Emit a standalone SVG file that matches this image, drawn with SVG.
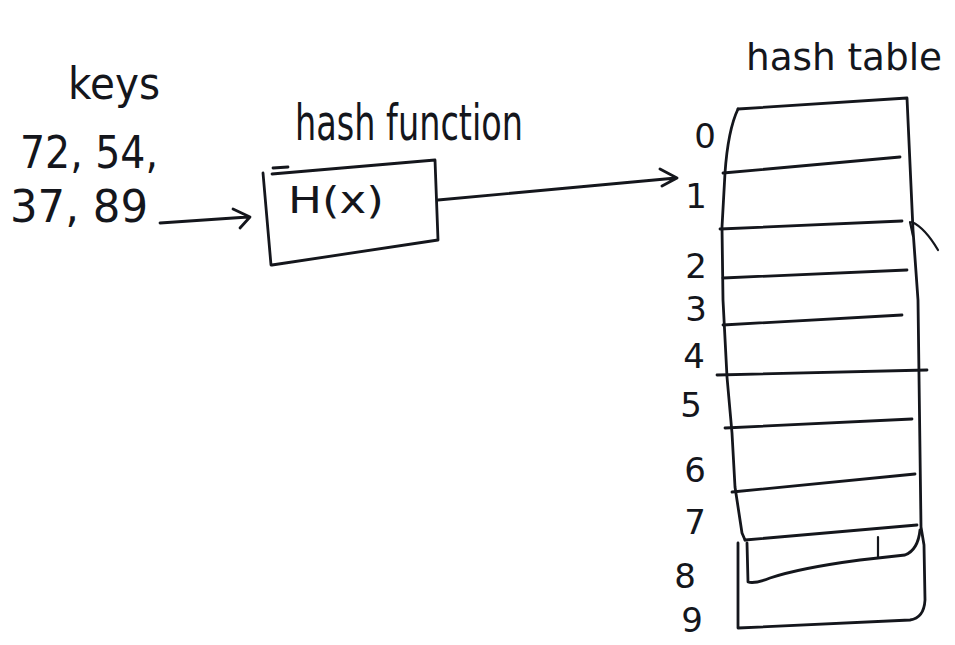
<svg xmlns="http://www.w3.org/2000/svg" width="955" height="645" viewBox="0 0 955 645">
<style>
.ink{fill:none;stroke:#14161c;stroke-width:2.8;stroke-linecap:round;stroke-linejoin:round}
.thin{fill:none;stroke:#14161c;stroke-width:2.2;stroke-linecap:round;stroke-linejoin:round}
.t{font-family:"DejaVu Sans","Liberation Sans",sans-serif;fill:#14161c}
</style>
<rect width="955" height="645" fill="#ffffff"/>
<g id="keys">
<text class="t" x="114" y="99" font-size="44" text-anchor="middle" textLength="92" lengthAdjust="spacingAndGlyphs">keys</text>
<text class="t" x="20" y="168" font-size="44" textLength="138" lengthAdjust="spacingAndGlyphs">72, 54,</text>
<text class="t" x="10" y="222" font-size="44" textLength="138" lengthAdjust="spacingAndGlyphs">37, 89</text>
</g>
<g id="hash-function">
<text class="t" x="295" y="140" font-size="50" textLength="228" lengthAdjust="spacingAndGlyphs">hash function</text>
<path class="ink" d="M263,173 L271,265 M272,174 L435,160 L438,240 L272,265 M273,168 L288,167"/>
<text class="t" x="288" y="213" font-size="38" textLength="96" lengthAdjust="spacingAndGlyphs">H(x)</text>
</g>
<g id="hash-table">
<text class="t" x="746" y="70" font-size="38" textLength="196" lengthAdjust="spacingAndGlyphs">hash table</text>
<path class="ink" d="M738,109 L907,98 L913,230 L918,300 L921,527 L924,545 L925,600 Q924,618 910,620 L738,628 L738,543"/>
<path class="ink" d="M738,109 Q728,130 725,173 L722,227 L723,300 L727,377 L732,433 L735,487 L742,533 L745,540"/>
<path class="ink" d="M723,173 L900,157"/>
<path class="ink" d="M720,229 L902,221"/>
<path class="ink" d="M723,278 L907,270"/>
<path class="ink" d="M723,325 L902,315"/>
<path class="ink" d="M717,375 L927,370"/>
<path class="ink" d="M725,428 L912,419"/>
<path class="ink" d="M732,492 L915,474"/>
<path class="ink" d="M745,540 L917,525"/>
<path class="ink" d="M747,543 L748,582 Q755,584 770,578 Q800,568 860,560 L905,555 Q918,550 920,530"/>
<path class="thin" d="M878,537 L878,557"/>
<path class="thin" d="M910,222 L913,236 M912,222 Q925,228 938,250"/>
<text class="t" x="705" y="148" font-size="34" text-anchor="middle">0</text>
<text class="t" x="696" y="208" font-size="34" text-anchor="middle">1</text>
<text class="t" x="696" y="278" font-size="34" text-anchor="middle">2</text>
<text class="t" x="696" y="321" font-size="34" text-anchor="middle">3</text>
<text class="t" x="694" y="368" font-size="34" text-anchor="middle">4</text>
<text class="t" x="691" y="417" font-size="34" text-anchor="middle">5</text>
<text class="t" x="695" y="482" font-size="34" text-anchor="middle">6</text>
<text class="t" x="695" y="534" font-size="34" text-anchor="middle">7</text>
<text class="t" x="685" y="588" font-size="34" text-anchor="middle">8</text>
<text class="t" x="692" y="632" font-size="34" text-anchor="middle">9</text>
</g>
<g id="connectors">
<path class="ink" d="M160,223 L248,217 M233,209 L250,217 L240,228"/>
<path class="ink" d="M438,200 L676,178 M660,169 L677,178 L662,186"/>
</g>
</svg>
